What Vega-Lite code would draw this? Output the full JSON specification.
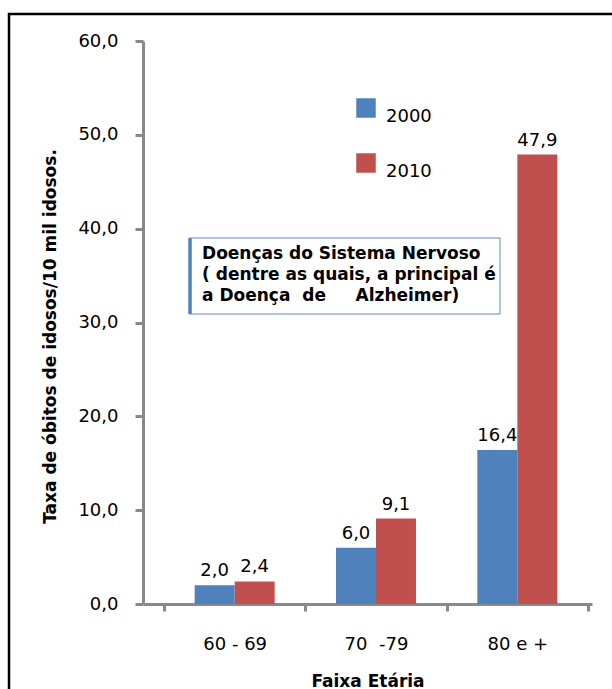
{
  "$schema": "https://vega.github.io/schema/vega-lite/v6.json",
  "width": 612,
  "height": 700,
  "autosize": {"type": "none"},
  "padding": {"left": 9, "top": 14, "right": 0, "bottom": 0},
  "background": "white",
  "config": {
    "locale": {"number": {"decimal": ",", "thousands": ".", "grouping": [3], "currency": ["R$", ""]}},
    "view": {"stroke": "black", "strokeWidth": 2.5},
    "font": "DejaVu Sans"
  },
  "datasets": {
    "taxas": [
      {"faixa": "60 - 69", "ano": "2000", "taxa": 2.0},
      {"faixa": "60 - 69", "ano": "2010", "taxa": 2.4},
      {"faixa": "70  -79", "ano": "2000", "taxa": 6.0},
      {"faixa": "70  -79", "ano": "2010", "taxa": 9.1},
      {"faixa": "80 e +", "ano": "2000", "taxa": 16.4},
      {"faixa": "80 e +", "ano": "2010", "taxa": 47.9}
    ],
    "nota": [
      {"texto": "Doenças do Sistema Nervoso\n( dentre as quais, a principal é\na Doença\u00a0 de\u00a0\u00a0\u00a0\u00a0 Alzheimer)"}
    ]
  },
  "layer": [
    {
      "data": {"name": "taxas"},
      "encoding": {
        "x": {
          "field": "faixa",
          "type": "nominal",
          "sort": ["60 - 69", "70  -79", "80 e +"],
          "scale": {"range": [134, 583], "paddingInner": 0, "paddingOuter": 0.0884, "align": 0.84},
          "axis": {
            "title": "Faixa Etária",
            "orient": "bottom",
            "offset": -110,
            "domainColor": "#898989",
            "domainWidth": 3,
            "tickColor": "#898989",
            "tickWidth": 3,
            "tickSize": 7,
            "tickBand": "extent",
            "labelAngle": 0,
            "labelFontSize": 18,
            "labelColor": "black",
            "labelPadding": 33,
            "labelBaseline": "middle",
            "labelExpr": "replace(datum.label, '  ', '\u00a0 ')",
            "titleFontSize": 17,
            "titleFontWeight": "bold",
            "titleColor": "black",
            "titleY": 77,
            "titleBaseline": "middle"
          }
        },
        "xOffset": {
          "field": "ano",
          "type": "nominal",
          "scale": {"paddingInner": 0, "paddingOuter": 0.767}
        },
        "y": {
          "field": "taxa",
          "type": "quantitative",
          "scale": {"domain": [0, 60], "range": [590, 27], "nice": false},
          "axis": {
            "title": "Taxa de óbitos de idosos/10 mil idosos.",
            "offset": -134,
            "values": [0, 10, 20, 30, 40, 50, 60],
            "format": ".1f",
            "grid": false,
            "domainColor": "#898989",
            "domainWidth": 3,
            "tickColor": "#898989",
            "tickWidth": 3,
            "tickSize": 8,
            "labelPadding": 17,
            "labelFontSize": 18,
            "labelColor": "black",
            "titleFontSize": 17,
            "titleFontWeight": "bold",
            "titleColor": "black",
            "titleX": -93,
            "titleY": 322,
            "titleAngle": 270,
            "titleAlign": "center",
            "titleBaseline": "middle"
          }
        }
      },
      "layer": [
        {
          "mark": {"type": "bar"},
          "encoding": {
            "color": {
              "field": "ano",
              "type": "nominal",
              "scale": {"domain": ["2000", "2010"], "range": ["#4F81BD", "#C0504D"]},
              "legend": {
                "orient": "none",
                "legendX": 347,
                "legendY": 84,
                "title": null,
                "symbolType": "square",
                "symbolSize": 380,
                "symbolStrokeWidth": 0,
                "symbolOpacity": 1,
                "labelFontSize": 18,
                "labelColor": "black",
                "labelOffset": 10,
                "labelBaseline": "top",
                "rowPadding": 27,
                "padding": 0
              }
            }
          }
        },
        {
          "mark": {"type": "text", "baseline": "alphabetic", "dy": -9, "fontSize": 18, "color": "black"},
          "encoding": {
            "text": {"field": "taxa", "type": "quantitative", "format": ".1f"}
          }
        }
      ]
    },
    {
      "data": {"name": "nota"},
      "layer": [
        {
          "mark": {"type": "rect", "fill": "white", "stroke": "#95B3D7", "strokeWidth": 1.5},
          "encoding": {
            "x": {"datum": 0.2958, "type": "quantitative", "scale": {"domain": [0, 1]}, "axis": null},
            "x2": {"datum": 0.8023},
            "y": {"datum": 39.0, "type": "quantitative"},
            "y2": {"datum": 30.9}
          }
        },
        {
          "mark": {"type": "rule", "stroke": "#4F81BD", "strokeWidth": 3.5},
          "encoding": {
            "x": {"datum": 0.2958, "type": "quantitative", "scale": {"domain": [0, 1]}, "axis": null},
            "y": {"datum": 39.0, "type": "quantitative"},
            "y2": {"datum": 30.9}
          }
        },
        {
          "mark": {"type": "text", "align": "left", "baseline": "middle", "fontSize": 17, "fontWeight": "bold", "lineBreak": "\n", "lineHeight": 21, "color": "black"},
          "encoding": {
            "x": {"datum": 0.3154, "type": "quantitative", "scale": {"domain": [0, 1]}, "axis": null},
            "y": {"datum": 37.3, "type": "quantitative"},
            "text": {"field": "texto"}
          }
        }
      ]
    }
  ],
  "resolve": {"scale": {"x": "independent"}, "axis": {"x": "independent"}}
}
